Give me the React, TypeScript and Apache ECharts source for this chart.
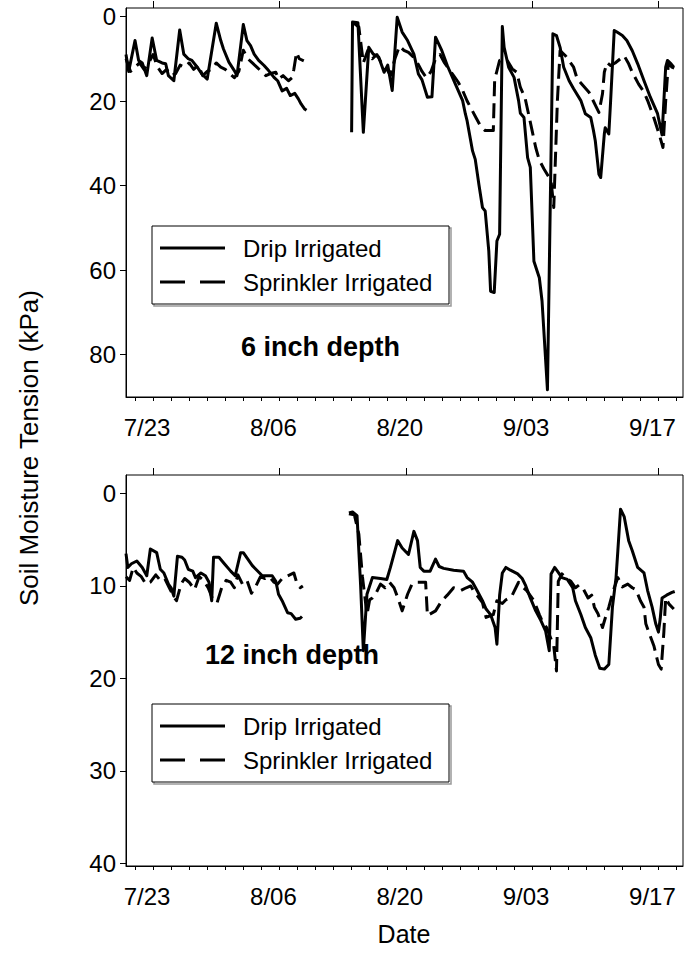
import React, { useEffect, useRef } from 'react';
import * as echarts from 'echarts';

// x values are days after 7/23
const dateTickDays = [0, 14, 28, 42, 56];
const dateTickLabels = ['7/23', '8/06', '8/20', '9/03', '9/17'];
const minorTickDays = [-2, 0, 2, 4, 6, 8, 10, 12, 14, 16, 18, 20, 22, 24, 26, 28, 30, 32, 34, 36, 38, 40, 42, 44, 46, 48, 50, 52, 54, 56, 58];
const topTicks = [0, 20, 40, 60, 80];
const bottomTicks = [0, 10, 20, 30, 40];
const seriesNames = ['Drip Irrigated', 'Sprinkler Irrigated'];

// 6 inch depth (kPa)
const topDrip: [number, number | null][] = [
  [-3.0, 9], [-2.7, 13], [-2.0, 5.7], [-1.6, 10.4], [-1.2, 11], [-0.7, 14], [-0.1, 5.1], [0.4, 10.4], [1.0, 11], [1.4, 11.2],
  [1.7, 14], [2.3, 15.2], [2.95, 3.2], [3.4, 8.9], [3.9, 10], [4.3, 10.4], [4.9, 12], [5.4, 13.6], [6.0, 14.8], [7.0, 1.6],
  [7.5, 5.7], [7.8, 7.7], [8.4, 10.8], [9.0, 12.8], [9.3, 14], [10.0, 1.9], [10.4, 5.7], [10.8, 6.9], [11.2, 8.9], [11.7, 10.4],
  [12.3, 11.6], [12.8, 12.8], [13.4, 14.4], [13.8, 15.2], [14.3, 17.6], [14.8, 17.0], [15.2, 18.7], [15.7, 18.2], [16.1, 19.5],
  [16.4, 20.7], [16.8, 21.9], [17.0, 22.2],
  [19, null],
  [22.0, 27.4], [22.1, 1.3], [22.7, 1.5], [23.3, 27.4], [23.9, 7.3], [24.4, 8.9], [25.0, 9.6], [25.6, 13.2], [26.0, 11.5],
  [26.5, 17.5], [27.05, 0.2], [27.6, 3.7], [28.2, 5.7], [28.9, 8.9], [29.4, 13.6], [29.8, 15], [30.4, 19.1], [30.9, 19],
  [31.3, 4.9], [32.0, 8.1], [32.6, 11.6], [33.5, 16], [34.3, 19.9], [34.6, 23], [34.8, 24.7], [35.4, 31.8], [35.7, 33.8],
  [36.1, 39.7], [36.5, 45.2], [36.8, 46], [37.2, 55.5], [37.4, 65], [37.8, 65.3], [38.1, 53.1], [38.4, 51.5], [38.7, 2.4],
  [38.9, 7.3], [39.4, 12], [40.0, 14.4], [40.5, 19.9], [40.7, 22.9], [41.1, 23.9], [41.5, 33.4], [41.8, 35.7], [42.2, 57.9],
  [42.8, 61.8], [43.1, 67.3], [43.7, 88.3], [44.3, 4.1], [44.7, 4.5], [45.1, 7.3], [45.5, 12], [46.1, 15.2], [46.6, 17.1],
  [47.4, 19.9], [47.9, 23], [48.5, 23.9], [48.8, 27], [49.0, 29.4], [49.4, 37.3], [49.6, 38.1], [50.0, 27.8], [50.1, 26.3],
  [50.5, 27.8], [50.7, 20], [51.1, 3.3], [51.4, 3.7], [52.0, 4.5], [52.5, 5.7], [53.1, 8.1], [53.7, 11.2], [54.4, 15.2],
  [55.1, 19.1], [55.9, 23], [56.4, 28], [56.8, 12], [57.0, 10.4], [57.4, 11.2], [57.7, 12],
];
const topSprinkler: [number, number | null][] = [
  [-3.0, 10], [-2.5, 13], [-2.0, 12], [-1.5, 11], [-1.0, 12.5], [-0.5, 11], [0.0, 9], [0.5, 12], [1.0, 13.5], [1.5, 12.5],
  [2.0, 14], [2.5, 13.5], [3.0, 11.5], [3.5, 12], [4.0, 11], [4.5, 12.5], [5.0, 11.5], [5.5, 14], [6.0, 13], [6.5, 12.5],
  [7.0, 11], [7.5, 12], [8.0, 12.5], [8.5, 13.5], [9.0, 14.5], [9.5, 13], [10.0, 8], [10.5, 10], [11.0, 11], [11.5, 12],
  [12.0, 13], [12.5, 14], [13.0, 13.5], [13.6, 13.2], [13.9, 14.8], [14.4, 14], [15.0, 15.2], [15.4, 14.5], [15.6, 12.5],
  [15.9, 8.5], [16.2, 10], [16.7, 10.5],
  [19, null],
  [22.2, 1.5], [22.8, 2.5], [23.3, 11], [23.8, 8], [24.3, 10], [24.8, 9], [25.3, 11], [25.8, 12], [26.3, 14], [26.8, 10],
  [27.3, 7], [27.8, 8], [28.3, 8.5], [28.8, 9.5], [29.3, 11], [29.8, 13], [30.3, 14.5], [30.8, 13], [31.3, 10], [31.8, 9],
  [32.3, 11], [32.8, 12.5], [33.3, 14], [33.8, 15.5], [34.3, 17.5], [34.8, 20], [35.3, 22], [35.8, 24], [36.3, 26], [36.8, 27],
  [37.3, 27], [37.7, 27], [37.85, 15], [38.1, 12.9], [38.4, 10.4], [38.8, 10.2], [39.3, 10.6], [39.8, 12.4], [40.3, 13.2],
  [40.7, 16.8], [41.2, 19.1], [41.6, 23], [42.0, 27], [42.4, 31], [42.8, 34], [43.3, 36], [44.1, 38.9], [44.4, 45.2],
  [44.8, 20], [45.1, 8.1], [45.7, 9.3], [46.6, 12], [47.0, 14.8], [48.3, 17.9], [49.4, 22.7], [49.8, 18.3], [50.0, 13.2],
  [50.3, 10.9], [50.7, 11.6], [51.2, 11], [52.2, 9.3], [52.7, 11.2], [53.1, 13.2], [53.8, 16], [54.4, 17.9], [54.8, 19.9],
  [55.5, 24], [56.1, 28], [56.5, 31], [56.8, 20], [57.1, 11], [57.5, 12], [58.0, 12.5],
];

// 12 inch depth (kPa)
const bottomDrip: [number, number | null][] = [
  [-3.0, 6.5], [-2.8, 8], [-2.4, 7.6], [-1.8, 7.3], [-1.2, 8], [-0.7, 8.9], [-0.3, 6], [0.4, 6.4], [0.8, 8.2], [1.2, 8.6],
  [1.7, 9.8], [2.0, 10.2], [2.3, 11.1], [2.7, 6.8], [3.2, 6.9], [3.5, 7.2], [3.9, 8.2], [4.4, 8.4], [4.7, 9.1], [5.3, 8.6],
  [5.8, 8.9], [6.2, 9.6], [6.5, 11.6], [6.7, 6.9], [7.3, 6.9], [7.9, 7.6], [8.6, 8.4], [9.1, 8.9], [9.7, 6.4], [10.0, 6.4],
  [10.5, 7.1], [11.0, 7.8], [11.5, 8.3], [12.1, 8.9], [13.2, 8.9], [13.6, 9.5], [13.9, 10.9], [14.3, 11.6], [14.9, 12.9],
  [15.3, 13.0], [15.8, 13.6], [16.3, 13.5], [16.5, 13.3],
  [19, null],
  [21.7, 2.1], [22.1, 2.0], [22.6, 2.4], [23.0, 10], [23.3, 17], [23.7, 10.9], [24.3, 9.1], [25.2, 9.2], [25.9, 9.3],
  [26.3, 8], [27.1, 5.1], [27.6, 5.9], [28.3, 6.6], [28.9, 4.1], [29.3, 5.1], [29.6, 8], [30.0, 8.4], [30.7, 8.4], [31.3, 7.1],
  [31.7, 7.9], [32.2, 8.1], [33.3, 8.3], [34.4, 8.4], [34.8, 9.1], [35.4, 9.6], [35.9, 10.5], [36.5, 11.6], [36.9, 12.5],
  [37.4, 13.1], [37.9, 14.5], [38.1, 16.3], [38.4, 11.0], [38.7, 8.6], [39.1, 8.0], [39.6, 8.3], [40.4, 8.7], [40.9, 9.2],
  [41.3, 10], [41.8, 11.3], [42.4, 12.7], [42.9, 13.6], [43.5, 14.9], [43.9, 17], [44.1, 8.7], [44.5, 8.0], [44.8, 8.4],
  [45.3, 9.1], [45.9, 9.3], [46.5, 10.2], [46.8, 11.6], [47.4, 13.1], [47.9, 14.5], [48.5, 15.6], [49.0, 17.5], [49.5, 18.9],
  [50.0, 19], [50.5, 18.5], [50.9, 12.3], [51.3, 9.1], [51.5, 6.2], [51.8, 1.7], [52.2, 2.5], [52.7, 5.1], [53.1, 6.2],
  [53.7, 8], [54.4, 8.6], [54.8, 10.5], [55.3, 12.3], [55.7, 14.1], [56.0, 15], [56.2, 13.5], [56.4, 11.3], [56.9, 11],
  [57.5, 10.7], [57.8, 10.6],
];
const bottomSprinkler: [number, number | null][] = [
  [-3.0, 9.0], [-2.6, 9.4], [-2.2, 8.0], [-1.8, 8.6], [-1.3, 9.0], [-0.8, 9.8], [-0.3, 9.6], [0.3, 8.8], [0.8, 9.4],
  [1.3, 9.2], [1.8, 10.2], [2.3, 11.2], [2.6, 11.6], [3.1, 9.8], [3.5, 9.2], [4.0, 9.6], [4.6, 10.4], [5.1, 9.0], [5.6, 9.4],
  [6.1, 10.2], [6.6, 11.4], [7.1, 11.8], [7.6, 10.2], [8.1, 9.4], [8.6, 9.6], [9.0, 10.2], [9.4, 8.8], [9.9, 9.8], [10.4, 9.4],
  [10.9, 10.8], [11.4, 10.0], [11.9, 9.0], [12.4, 9.2], [12.9, 9.0], [13.4, 9.6], [13.8, 9.8], [14.3, 9.2], [14.7, 9.0],
  [15.6, 8.6], [15.9, 9.6], [16.3, 10.2], [16.6, 10.0],
  [19, null],
  [21.7, 2.2], [22.3, 2.3], [22.8, 4.4], [23.2, 9], [23.7, 13.1], [24.0, 11.5], [24.3, 11.3], [24.7, 10.8], [25.2, 9.8],
  [25.7, 10.2], [26.2, 9.6], [26.7, 10.2], [27.2, 11.5], [27.6, 12.7], [28.2, 10.9], [28.7, 9.8], [29.3, 9.6], [30.2, 9.6],
  [30.4, 13.2], [31.3, 12.7], [32.0, 11.6], [32.6, 11.0], [33.3, 10.2], [34.1, 10.5], [34.7, 10.2], [35.2, 10.0], [35.5, 10.5],
  [36.5, 11.8], [36.9, 13.4], [37.4, 13.2], [37.7, 13.1], [38.1, 11.6], [38.7, 11.9], [39.1, 11.5], [39.7, 11.2], [40.2, 10.2],
  [40.5, 9.6], [40.9, 10.1], [41.4, 10.5], [42.2, 11.6], [42.8, 13.1], [43.2, 14], [43.6, 14.5], [44.0, 15.5], [44.4, 16.5],
  [44.7, 19.2], [44.9, 9.5], [45.3, 8.7], [45.8, 9.2], [46.3, 9.5], [46.8, 10.2], [47.2, 9.9], [47.6, 10.2], [48.2, 11.3],
  [48.6, 11], [48.9, 12.3], [49.3, 13], [49.8, 14.5], [50.1, 13.5], [50.5, 12.3], [51.0, 10.5], [51.5, 9.1], [52.0, 10.1],
  [52.6, 9.8], [53.1, 10.2], [53.5, 10.4], [54.0, 11.6], [54.4, 12.3], [54.6, 14.1], [55.0, 15.2], [55.5, 16.5], [56.0, 18.5],
  [56.3, 19], [56.6, 15], [56.8, 11.3], [57.2, 12], [57.7, 12.5],
];

const FONT = '"Liberation Sans", Arial, Helvetica, sans-serif';
const DASH = [15, 7];
const X_MIN = -3;
const X_MAX = 58.72;

function xAxes(gridIndex: number) {
  return [
    {
      type: 'value', gridIndex, min: X_MIN, max: X_MAX,
      axisLine: { show: true, onZero: false, lineStyle: { color: '#000', width: 1 } },
      axisTick: { show: true, customValues: minorTickDays, length: 4, lineStyle: { color: '#000', width: 1 } },
      axisLabel: {
        show: true, customValues: dateTickDays, margin: 18, fontSize: 24, color: '#000', fontFamily: FONT,
        padding: [0, 12, 0, 0],
        formatter: (v: number) => { const i = dateTickDays.indexOf(v); return i >= 0 ? dateTickLabels[i] : ''; },
      },
      splitLine: { show: false },
    },
    {
      type: 'value', gridIndex, min: X_MIN, max: X_MAX,
      axisLine: { show: false, onZero: false },
      axisTick: { show: true, customValues: dateTickDays, length: 7, lineStyle: { color: '#000', width: 1 } },
      axisLabel: { show: false },
      splitLine: { show: false },
    },
  ];
}

function yAxis(gridIndex: number, min: number, max: number, ticks: number[]) {
  return {
    type: 'value', gridIndex, inverse: true, min, max,
    axisLine: { show: true, onZero: false, lineStyle: { color: '#000', width: 1 } },
    axisTick: { show: true, customValues: ticks, length: 6, lineStyle: { color: '#000', width: 1 } },
    axisLabel: { show: true, customValues: ticks, margin: 10, fontSize: 24, color: '#000', fontFamily: FONT },
    splitLine: { show: false },
  };
}

function lineSeries(name: string, xAxisIndex: number, yAxisIndex: number, data: [number, number | null][], dashed: boolean) {
  return {
    type: 'line', name, xAxisIndex, yAxisIndex, data,
    symbol: 'none', showSymbol: false, connectNulls: false,
    lineStyle: { color: '#000', width: 3, type: dashed ? DASH : 'solid', cap: 'butt', join: 'round' },
    itemStyle: { color: '#000' },
    emphasis: { disabled: true },
  };
}

function legendBox(left: number, top: number) {
  const w = 297;
  const h = 78;
  const row1 = top + 22;
  const row2 = top + 56;
  return {
    type: 'group',
    children: [
      { type: 'rect', shape: { x: left + 2, y: top + 2, width: w, height: h }, style: { fill: 'none', stroke: '#999', lineWidth: 1.5 } },
      { type: 'rect', shape: { x: left, y: top, width: w, height: h }, style: { fill: '#fff', stroke: '#000', lineWidth: 1 } },
      { type: 'line', shape: { x1: left + 8, y1: row1, x2: left + 73, y2: row1 }, style: { stroke: '#000', lineWidth: 3 } },
      { type: 'line', shape: { x1: left + 8, y1: row2, x2: left + 73, y2: row2 }, style: { stroke: '#000', lineWidth: 3, lineDash: [25, 15] } },
      { type: 'text', x: left + 91, y: row1, style: { text: seriesNames[0], fontSize: 24, fontFamily: FONT, fill: '#000', align: 'left', verticalAlign: 'middle' } },
      { type: 'text', x: left + 91, y: row2, style: { text: seriesNames[1], fontSize: 24, fontFamily: FONT, fill: '#000', align: 'left', verticalAlign: 'middle' } },
    ],
  };
}

export default function App() {
  const ref = useRef<HTMLDivElement>(null);
  useEffect(() => {
    if (!ref.current) return;
    const chart = echarts.init(ref.current, undefined, { renderer: 'svg' });
    chart.setOption({
      animation: false,
      backgroundColor: '#fff',
      grid: [
        { left: 126, top: 8, width: 557, height: 389, show: true, borderColor: '#000', borderWidth: 1, containLabel: false },
        { left: 126, top: 475, width: 557, height: 391, show: true, borderColor: '#000', borderWidth: 1, containLabel: false },
      ],
      xAxis: [...xAxes(0), ...xAxes(1)],
      yAxis: [yAxis(0, -2, 90, topTicks), yAxis(1, -2, 40.3, bottomTicks)],
      series: [
        lineSeries(seriesNames[0], 0, 0, topDrip, false),
        lineSeries(seriesNames[1], 0, 0, topSprinkler, true),
        lineSeries(seriesNames[0], 2, 1, bottomDrip, false),
        lineSeries(seriesNames[1], 2, 1, bottomSprinkler, true),
      ],
      graphic: [
        legendBox(152, 226),
        legendBox(152, 704),
        {
          type: 'text', x: 29, y: 448, rotation: Math.PI / 2,
          style: { text: 'Soil Moisture Tension (kPa)', fontSize: 26, fontFamily: FONT, fill: '#000', align: 'center', verticalAlign: 'middle' },
        },
        {
          type: 'text', x: 404, y: 934,
          style: { text: 'Date', fontSize: 25, fontFamily: FONT, fill: '#000', align: 'center', verticalAlign: 'middle' },
        },
        {
          type: 'text', x: 241, y: 347,
          style: { text: '6 inch depth', fontSize: 27, fontWeight: 'bold', fontFamily: FONT, fill: '#000', align: 'left', verticalAlign: 'middle' },
        },
        {
          type: 'text', x: 205, y: 655,
          style: { text: '12 inch depth', fontSize: 27, fontWeight: 'bold', fontFamily: FONT, fill: '#000', align: 'left', verticalAlign: 'middle' },
        },
      ],
    });
    return () => chart.dispose();
  }, []);
  return <div ref={ref} style={{ position: 'fixed', left: 0, top: 0, width: 684, height: 954, background: '#fff' }} />;
}
